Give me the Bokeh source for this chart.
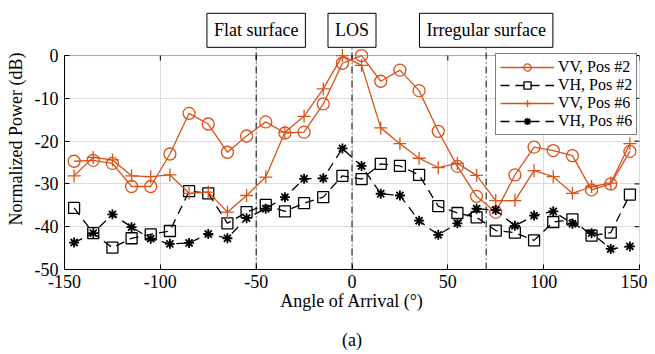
from bokeh.plotting import figure
from bokeh.models import Label, Legend, LegendItem, FixedTicker, BoxAnnotation, LinearAxis
from bokeh.embed import file_html
from bokeh.resources import INLINE

angles = [-145, -135, -125, -115, -105, -95, -85, -75, -65, -55, -45, -35, -25, -15, -5,
          5, 15, 25, 35, 45, 55, 65, 75, 85, 95, 105, 115, 125, 135, 145]
vv_pos2 = [-24.7, -24.5, -25.2, -30.6, -30.6, -23.0, -13.5, -16.0, -22.6, -18.8, -15.5, -18.1, -17.9, -11.3, -1.8,
           0.0, -6.0, -3.4, -8.2, -17.7, -25.9, -32.9, -36.6, -27.9, -21.4, -22.2, -23.4, -31.4, -30.0, -22.4]
vh_pos2 = [-35.6, -41.5, -44.9, -42.7, -41.8, -41.0, -31.7, -32.2, -39.2, -36.6, -34.9, -36.4, -34.5, -33.1, -28.1,
           -28.9, -25.3, -25.8, -27.9, -35.2, -36.8, -37.8, -40.9, -41.4, -43.2, -38.9, -38.3, -42.1, -41.4, -32.5]
vv_pos6 = [-28.1, -23.8, -24.4, -28.1, -28.3, -27.9, -32.2, -31.9, -36.6, -32.7, -28.4, -17.9, -14.2, -7.8, 0.0,
           -2.3, -16.9, -20.6, -24.0, -26.2, -25.2, -28.0, -33.9, -33.9, -26.9, -28.3, -32.2, -30.6, -29.8, -20.6]
vh_pos6 = [-43.7, -41.5, -37.1, -40.1, -42.8, -44.0, -43.8, -41.7, -42.7, -38.0, -35.8, -33.1, -28.8, -28.7, -21.7,
           -25.8, -32.3, -32.7, -38.6, -41.9, -39.2, -35.8, -36.1, -39.8, -37.4, -36.4, -39.3, -41.5, -45.2, -44.6]

region_x = [-50, 0, 70]
region_labels = ["Flat surface", "LOS", "Irregular surface"]
x_ticks = [-150, -100, -50, 0, 50, 100, 150]
x_tick_labels = ["-150", "-100", "-50", "0", "50", "100", "150"]
y_ticks = [-50, -40, -30, -20, -10, 0]
y_tick_labels = ["-50", "-40", "-30", "-20", "-10", "0"]

FONT = "Liberation Serif"
FS = "18px"
ORANGE = "#D95319"
X_MIN, X_MAX = -150, 150
Y_MIN, Y_MAX, Y_TOP = -50, 0, 11

p = figure(width=647, height=354, output_backend="svg", toolbar_location=None,
           x_range=(X_MIN, X_MAX), y_range=(Y_MIN, Y_TOP),
           min_border_left=64, min_border_right=8, min_border_top=8, min_border_bottom=85)
p.outline_line_color = None
p.background_fill_color = "white"

for ax in (p.xaxis[0], p.yaxis[0]):
    ax.major_tick_in = 5
    ax.major_tick_out = 0
    ax.minor_tick_line_color = None
    ax.axis_line_color = "black"
    ax.major_tick_line_color = "black"
    ax.major_label_text_font = FONT
    ax.major_label_text_font_size = FS
    ax.major_label_text_color = "black"
    ax.axis_label_text_font = FONT
    ax.axis_label_text_font_size = FS
    ax.axis_label_text_font_style = "normal"
    ax.axis_label_text_color = "black"

p.xaxis.ticker = FixedTicker(ticks=x_ticks)
p.yaxis.ticker = FixedTicker(ticks=y_ticks)
p.xaxis.major_label_overrides = dict(zip(x_ticks, x_tick_labels))
p.yaxis.major_label_overrides = dict(zip(y_ticks, y_tick_labels))
p.yaxis.bounds = (Y_MIN, Y_MAX)
p.xaxis.axis_label = "Angle of Arrival (°)"
p.yaxis.axis_label = "Normalized Power (dB)"
p.xaxis.major_label_standoff = 5
p.xaxis.axis_label_standoff = 0
p.yaxis.major_label_standoff = 6
p.yaxis.axis_label_standoff = 6

# caption "(a)" as an empty second bottom axis
cap = LinearAxis(ticker=FixedTicker(ticks=[]), axis_label="(a)", axis_line_color=None,
                 major_tick_line_color=None, minor_tick_line_color=None,
                 axis_label_text_font=FONT, axis_label_text_font_size=FS,
                 axis_label_text_font_style="normal", axis_label_text_color="black",
                 axis_label_standoff=16)
p.add_layout(cap, "below")

p.xgrid.grid_line_color = "#dcdcdc"
p.ygrid.grid_line_color = "#dcdcdc"
p.ygrid.bounds = (Y_MIN, Y_MAX)

# white cover above the plotting box, and the box outline
p.add_layout(BoxAnnotation(bottom=Y_MAX, fill_color="white", fill_alpha=1.0,
                           line_color=None, level="underlay"))
p.add_layout(BoxAnnotation(left=X_MIN, right=X_MAX, bottom=Y_MIN, top=Y_MAX,
                           fill_alpha=0, line_color="black", line_width=1, level="underlay"))

# mirrored inward ticks on top and right edges
tick_dy = 1.17
tick_dx = 2.6
p.segment(x0=x_ticks, y0=[Y_MAX] * len(x_ticks), x1=x_ticks, y1=[Y_MAX - tick_dy] * len(x_ticks),
          line_color="black", line_width=1)
p.segment(x0=[X_MAX] * len(y_ticks), y0=y_ticks, x1=[X_MAX - tick_dx] * len(y_ticks), y1=y_ticks,
          line_color="black", line_width=1)

# region separators and boxes
p.segment(x0=region_x, y0=[Y_MIN] * 3, x1=region_x, y1=[1.9] * 3,
          line_color="black", line_width=1, line_dash="7 3 1 3")
for xv, txt in zip(region_x, region_labels):
    p.add_layout(Label(x=xv, y=5.9, text=txt, text_align="center", text_baseline="middle",
                       text_font=FONT, text_font_size=FS, text_color="black",
                       background_fill_color="white", border_line_color="black",
                       border_line_width=1, padding=7))

r1l = p.line(angles, vv_pos2, line_color=ORANGE, line_width=1.3)
r1s = p.scatter(angles, vv_pos2, marker="circle", size=12, line_color=ORANGE, fill_color=None, line_width=1.3)
r2l = p.line(angles, vh_pos2, line_color="black", line_width=1.3, line_dash="9 6")
r2s = p.scatter(angles, vh_pos2, marker="square", size=11, line_color="black", fill_color=None, line_width=1.3)
r3l = p.line(angles, vv_pos6, line_color=ORANGE, line_width=1.3)
r3s = p.scatter(angles, vv_pos6, marker="cross", size=13, line_color=ORANGE, line_width=1.3)
r4l = p.line(angles, vh_pos6, line_color="black", line_width=1.3, line_dash="9 6")
r4s = p.scatter(angles, vh_pos6, marker="asterisk", size=10, line_color="black", line_width=1.8)

legend = Legend(items=[
    LegendItem(label="VV, Pos #2", renderers=[r1l, r1s]),
    LegendItem(label="VH, Pos #2", renderers=[r2l, r2s]),
    LegendItem(label="VV, Pos #6", renderers=[r3l, r3s]),
    LegendItem(label="VH, Pos #6", renderers=[r4l, r4s]),
], location=(431, 134))
legend.label_text_font = FONT
legend.label_text_font_size = "16px"
legend.label_text_color = "black"
legend.border_line_color = "black"
legend.border_line_width = 1
legend.margin = 0
legend.padding = 4
legend.spacing = 0
legend.glyph_width = 54
legend.glyph_height = 18
legend.label_height = 18
legend.label_standoff = 4
p.add_layout(legend)

open("out.html", "w").write(file_html(p, INLINE))
